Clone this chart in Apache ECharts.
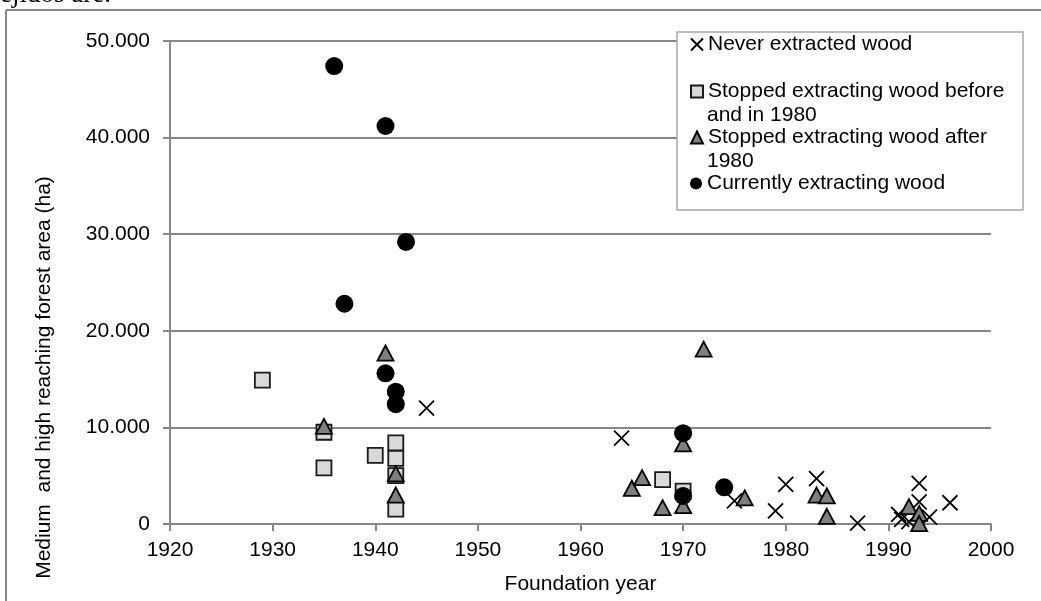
<!DOCTYPE html>
<html>
<head>
<meta charset="utf-8">
<script src="https://cdn.jsdelivr.net/npm/echarts@6/dist/echarts.min.js"></script>
<style>html,body{margin:0;padding:0;background:#fff;}#chart{width:1041px;height:601px;}</style>
</head>
<body>
<div id="chart"></div>
<script>
// ---- data ----
const seriesNames = [
  'Never extracted wood',
  'Stopped extracting wood before',
  'Stopped extracting wood after',
  'Currently extracting wood'
];
const neverExtracted = [
  [1945, 12000], [1964, 8900], [1975, 2400], [1979, 1350], [1980, 4100],
  [1983, 4700], [1987, 80], [1991, 1000], [1991.3, 480], [1992, 250],
  [1993, 4200], [1993, 2300], [1994, 700], [1996, 2200]
];
const stoppedBefore1980 = [
  [1929, 14900], [1935, 9500], [1935, 5800], [1940, 7100], [1942, 8400],
  [1942, 6800], [1942, 5000], [1942, 1550], [1968, 4600], [1970, 3400]
];
const stoppedAfter1980 = [
  [1935, 10100], [1941, 17700], [1942, 5200], [1942, 3000], [1965, 3700],
  [1966, 4800], [1968, 1700], [1970, 8300], [1970, 1900], [1972, 18100],
  [1976, 2700], [1983, 3000], [1984, 2900], [1984, 800], [1992, 1800],
  [1993, 1100], [1993, 50]
];
const currentlyExtracting = [
  [1936, 47400], [1941, 41200], [1943, 29200], [1937, 22800], [1941, 15600],
  [1942, 13700], [1942, 12400], [1970, 9400], [1970, 2900], [1974, 3800]
];
const xTicks = [1920, 1930, 1940, 1950, 1960, 1970, 1980, 1990, 2000];
const yTicks = [0, 10000, 20000, 30000, 40000, 50000];
const legendSecondLines = ['and in 1980', '1980'];
const xTitle = 'Foundation year';
const yTitle = 'Medium  and high reaching forest area (ha)';
const clippedCaption = 'ejidos are.';

// ---- chart ----
const FONT = '"Liberation Sans", Arial, sans-serif';
const FS = 21;
const GRID = '#868686';
const chart = echarts.init(document.getElementById('chart'), null, {renderer: 'canvas'});
const fmtY = v => String(v).replace(/\B(?=(\d{3})+(?!\d))/g, '.');
const fmtX = v => String(v);

const legendTops = [34, 81, 127, 173];
const legendDefs = seriesNames.map((n, i) => ({
  data: [n],
  left: 690,
  top: legendTops[i],
  padding: 0,
  itemWidth: 12,
  itemHeight: 12,
  selectedMode: false,
  z: 6,
  textStyle: {fontSize: FS, fontFamily: FONT, color: '#000'}
}));

const option = {
  backgroundColor: '#fff',
  animation: false,
  grid: {left: 170, right: 50, top: 41, bottom: 77},
  legend: legendDefs,
  xAxis: {
    type: 'value',
    min: xTicks[0], max: xTicks[xTicks.length - 1], interval: 10,
    name: xTitle, nameLocation: 'middle', nameGap: 50,
    nameTextStyle: {fontSize: FS, fontFamily: FONT, color: '#000'},
    axisLine: {show: true, lineStyle: {color: GRID, width: 2}},
    axisTick: {show: true, inside: false, length: 7, lineStyle: {color: GRID, width: 2}},
    axisLabel: {fontSize: FS, fontFamily: FONT, color: '#000', margin: 16, formatter: fmtX},
    splitLine: {show: false}
  },
  yAxis: {
    type: 'value',
    min: yTicks[0], max: yTicks[yTicks.length - 1], interval: 10000,
    name: yTitle, nameLocation: 'middle', nameGap: 115,
    nameTextStyle: {fontSize: FS, fontFamily: FONT, color: '#000', padding: [0, 190, 0, 0]},
    axisLine: {show: true, lineStyle: {color: GRID, width: 2}},
    axisTick: {show: true, inside: false, length: 7, lineStyle: {color: GRID, width: 2}},
    axisLabel: {fontSize: FS, fontFamily: FONT, color: '#000', margin: 20, formatter: fmtY},
    splitLine: {show: true, lineStyle: {color: GRID, width: 2}}
  },
  series: [
    {
      name: seriesNames[0], type: 'scatter', data: neverExtracted,
      symbol: 'path://M0,0L10,10M10,0L0,10', symbolSize: 15,
      itemStyle: {color: 'rgba(0,0,0,0)', borderColor: '#000', borderWidth: 1.8, opacity: 1},
      z: 2
    },
    {
      name: seriesNames[1], type: 'scatter', data: stoppedBefore1980,
      symbol: 'rect', symbolSize: 15,
      itemStyle: {color: '#d9d9d9', borderColor: '#1a1a1a', borderWidth: 1.8, opacity: 1},
      z: 3
    },
    {
      name: seriesNames[2], type: 'scatter', data: stoppedAfter1980,
      symbol: 'triangle', symbolSize: [16, 15],
      itemStyle: {color: '#7f7f7f', borderColor: '#000', borderWidth: 1.8, opacity: 1},
      z: 4
    },
    {
      name: seriesNames[3], type: 'scatter', data: currentlyExtracting,
      symbol: 'circle', symbolSize: 18,
      itemStyle: {color: '#000', borderColor: '#000', borderWidth: 0, opacity: 1},
      z: 5
    }
  ],
  graphic: [
    {type: 'line', silent: true, shape: {x1: 6, y1: 10, x2: 1041, y2: 10}, style: {stroke: GRID, lineWidth: 2}},
    {type: 'line', silent: true, shape: {x1: 6, y1: 10, x2: 6, y2: 601}, style: {stroke: GRID, lineWidth: 2}},
    {type: 'text', silent: true, left: 0, top: -19,
      style: {text: clippedCaption, fontSize: 27, fontFamily: '"Liberation Serif", "Times New Roman", serif', fill: '#000'}},
    {type: 'rect', silent: true, z: 5, shape: {x: 677, y: 32, width: 346, height: 178},
      style: {fill: '#fff', stroke: '#a6a6a6', lineWidth: 1.5}},
    {type: 'text', silent: true, z: 6, x: 707, y: 115,
      style: {text: legendSecondLines[0], fontSize: FS, fontFamily: FONT, fill: '#000', verticalAlign: 'middle'}},
    {type: 'text', silent: true, z: 6, x: 707, y: 161,
      style: {text: legendSecondLines[1], fontSize: FS, fontFamily: FONT, fill: '#000', verticalAlign: 'middle'}}
  ]
};
chart.setOption(option);
</script>
</body>
</html>
